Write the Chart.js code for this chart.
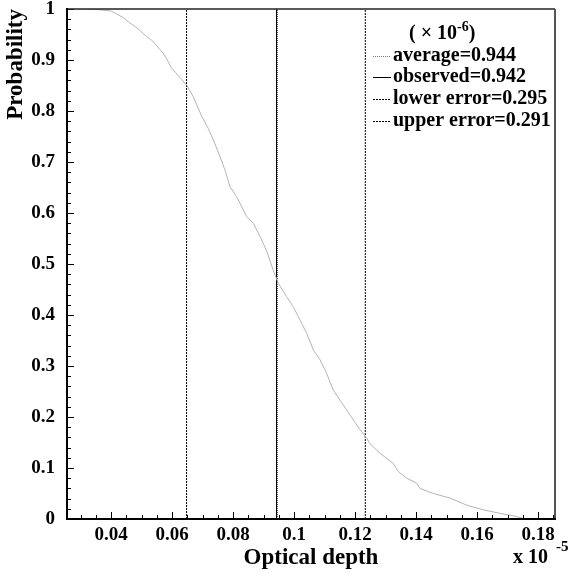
<!DOCTYPE html>
<html>
<head>
<meta charset="utf-8">
<script src="https://cdn.jsdelivr.net/npm/chart.js@4.4.1/dist/chart.umd.min.js"></script>
<style>
  html, body { margin: 0; padding: 0; background: #fff; }
  #wrap { width: 571px; height: 577px; }
</style>
</head>
<body>
<div id="wrap"><canvas id="c" width="571" height="577"></canvas></div>
<script>
// Optical depth (units of 1e-5) and the probability of exceeding it
const depth = [
  0.0290, 0.0330, 0.0370, 0.0400, 0.0418, 0.0440, 0.0456, 0.0475, 0.0494, 0.0516,
  0.0530, 0.0544, 0.0560, 0.0572, 0.0582, 0.0598, 0.0610, 0.0625, 0.0648, 0.0669,
  0.0697, 0.0718, 0.0735, 0.0757, 0.0773, 0.0789, 0.0811, 0.0828, 0.0844, 0.0866,
  0.0888, 0.0910, 0.0931, 0.0948, 0.0975, 0.0997, 0.1019, 0.1041, 0.1063, 0.1085,
  0.1106, 0.1128, 0.1150, 0.1172, 0.1194, 0.1216, 0.1238, 0.1248, 0.1281, 0.1325,
  0.1341, 0.1369, 0.1402, 0.1412, 0.1456, 0.1511, 0.1566, 0.1620, 0.1675, 0.1729,
  0.1751
];
const probability = [
  1.000, 1.000, 0.998, 0.996, 0.990, 0.983, 0.975, 0.967, 0.958, 0.946,
  0.940, 0.932, 0.920, 0.912, 0.902, 0.884, 0.876, 0.866, 0.850, 0.828,
  0.789, 0.766, 0.743, 0.710, 0.684, 0.652, 0.632, 0.612, 0.593, 0.580,
  0.554, 0.525, 0.488, 0.462, 0.436, 0.416, 0.390, 0.364, 0.331, 0.312,
  0.286, 0.253, 0.233, 0.214, 0.194, 0.175, 0.158, 0.148, 0.129, 0.109,
  0.093, 0.080, 0.070, 0.060, 0.050, 0.041, 0.027, 0.018, 0.011, 0.005,
  0.001
];

// Summary values (units of 1e-5)
const average = 0.0944;
const observed = 0.0942;
const lowerError = 0.0295;
const upperError = 0.0291;

// Axis ticks
const xTicks = [0.04, 0.06, 0.08, 0.10, 0.12, 0.14, 0.16, 0.18];
const yTicks = [0, 0.1, 0.2, 0.3, 0.4, 0.5, 0.6, 0.7, 0.8, 0.9, 1];

const FONT = "'Liberation Serif', 'Times New Roman', serif";
const fmt = v => String(+v.toFixed(3));
const vline = (x) => [{ x: x, y: 0 }, { x: x, y: 1 }];

const datasets = [
  {
    label: 'curve',
    data: depth.map((x, i) => ({ x: x, y: probability[i] })),
    borderColor: '#b4b4b4', borderWidth: 1, pointRadius: 0, tension: 0
  },
  {
    label: 'average=' + (average * 10).toFixed(3),
    data: vline(average),
    borderColor: '#000', borderWidth: 1, borderDash: [1, 1], pointRadius: 0,
    legendColor: '#777'
  },
  {
    label: 'observed=' + (observed * 10).toFixed(3),
    data: vline(observed),
    borderColor: '#000', borderWidth: 1, borderDash: [], pointRadius: 0
  },
  {
    label: 'lower error=' + (lowerError * 10).toFixed(3),
    data: vline(observed - lowerError),
    borderColor: '#000', borderWidth: 1, borderDash: [2, 1], pointRadius: 0
  },
  {
    label: 'upper error=' + (upperError * 10).toFixed(3),
    data: vline(observed + upperError),
    borderColor: '#000', borderWidth: 1, borderDash: [2, 1], pointRadius: 0
  }
];

// Frame, inward ticks, exponent label and the legend box
const decorations = {
  id: 'decorations',
  afterDraw(chart) {
    const { ctx, chartArea: a, scales: { x, y } } = chart;
    ctx.save();

    // inward ticks
    ctx.strokeStyle = '#000';
    ctx.lineWidth = 1;
    ctx.beginPath();
    for (let v = 0.03; v <= x.max + 1e-9; v += 0.005) {
      const px = Math.round(x.getPixelForValue(v)) + 0.5;
      const major = xTicks.some(t => Math.abs(t - v) < 1e-6);
      ctx.moveTo(px, a.bottom);
      ctx.lineTo(px, a.bottom - (major ? 7 : 4));
    }
    for (let v = 0; v <= 1 + 1e-9; v += 0.02) {
      const py = Math.round(y.getPixelForValue(v)) + 0.5;
      const major = yTicks.some(t => Math.abs(t - v) < 1e-6);
      ctx.moveTo(a.left, py);
      ctx.lineTo(a.left + (major ? 7 : 4), py);
    }
    ctx.stroke();

    // frame
    ctx.lineWidth = 1.5;
    ctx.strokeStyle = '#222';
    ctx.beginPath();
    ctx.moveTo(a.left, a.top);
    ctx.lineTo(a.right, a.top);
    ctx.stroke();
    ctx.strokeStyle = '#555';
    ctx.lineWidth = 2;
    ctx.beginPath();
    ctx.moveTo(a.right, a.top);
    ctx.lineTo(a.right, a.bottom);
    ctx.stroke();
    ctx.strokeStyle = '#000';
    ctx.lineWidth = 2;
    ctx.beginPath();
    ctx.moveTo(a.left, a.top - 1);
    ctx.lineTo(a.left, a.bottom);
    ctx.lineTo(a.right + 1, a.bottom);
    ctx.stroke();

    // exponent of the x axis
    ctx.fillStyle = '#000';
    ctx.textBaseline = 'middle';
    ctx.textAlign = 'left';
    ctx.font = 'bold 20px ' + FONT;
    ctx.fillText('x 10', 513, 558);
    ctx.font = 'bold 15px ' + FONT;
    ctx.fillText('-5', 556, 547);

    // legend header
    ctx.font = 'bold 20px ' + FONT;
    const head = '( \u00d7 10';
    ctx.fillText(head, 409, 34);
    let hx = 409 + ctx.measureText(head).width;
    ctx.font = 'bold 14px ' + FONT;
    ctx.fillText('-6', hx, 27);
    hx += ctx.measureText('-6').width;
    ctx.font = 'bold 20px ' + FONT;
    ctx.fillText(')', hx, 34);

    // legend entries
    const rows = [56, 77, 99, 121];
    chart.data.datasets.slice(1).forEach((ds, i) => {
      const ry = rows[i];
      ctx.strokeStyle = ds.legendColor || ds.borderColor;
      ctx.lineWidth = 1;
      ctx.setLineDash(ds.borderDash || []);
      ctx.beginPath();
      ctx.moveTo(373, ry + 0.5);
      ctx.lineTo(391, ry + 0.5);
      ctx.stroke();
      ctx.setLineDash([]);
      ctx.fillStyle = '#000';
      ctx.font = 'bold 20px ' + FONT;
      ctx.fillText(ds.label, 393, ry);
    });

    ctx.restore();
  }
};

new Chart(document.getElementById('c'), {
  type: 'line',
  data: { datasets: datasets },
  plugins: [decorations],
  options: {
    responsive: false,
    animation: false,
    devicePixelRatio: 1,
    layout: { padding: { top: 9, right: 16, left: 0, bottom: 0 } },
    plugins: { legend: { display: false }, tooltip: { enabled: false } },
    scales: {
      x: {
        type: 'linear',
        position: 'bottom',
        min: 0.0255,
        max: 0.1855,
        grid: { display: false, drawTicks: false },
        border: { display: false },
        afterBuildTicks: s => { s.ticks = xTicks.map(v => ({ value: v })); },
        afterFit: s => { s.height = 58; s.paddingLeft = 0; s.paddingRight = 0; },
        ticks: {
          color: '#000', padding: 5, autoSkip: false, maxRotation: 0,
          font: { family: FONT, size: 19, weight: 'bold' },
          callback: v => fmt(v)
        },
        title: {
          display: true, text: 'Optical depth', color: '#000',
          font: { family: FONT, size: 23, weight: 'bold' },
          padding: { top: 0, bottom: 5 }
        }
      },
      y: {
        type: 'linear',
        min: 0,
        max: 1,
        grid: { display: false, drawTicks: false },
        border: { display: false },
        afterBuildTicks: s => { s.ticks = yTicks.map(v => ({ value: v })); },
        afterFit: s => { s.width = 67; s.paddingTop = 0; s.paddingBottom = 0; },
        ticks: {
          color: '#000', padding: 12,
          font: { family: FONT, size: 19, weight: 'bold' },
          callback: v => fmt(v)
        },
        title: {
          display: true, text: 'Probability', color: '#000', align: 'end',
          font: { family: FONT, size: 23, weight: 'bold' },
          padding: { top: 2, bottom: 0 }
        }
      }
    }
  }
});
</script>
</body>
</html>
